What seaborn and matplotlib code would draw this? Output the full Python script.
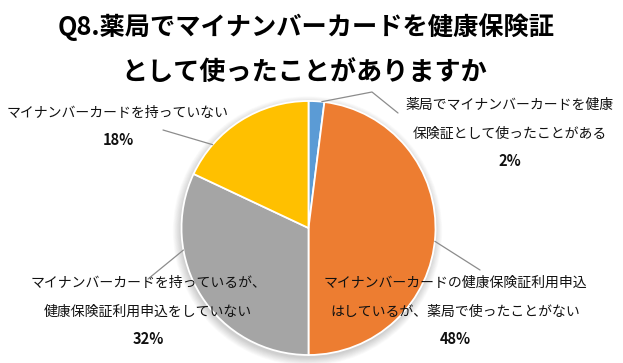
import numpy as np
import matplotlib.pyplot as plt
import matplotlib.patches as mpatches
import seaborn as sns

# data
labels = [
    ["薬局でマイナンバーカードを健康", "保険証として使ったことがある"],
    ["マイナンバーカードの健康保険証利用申込", "はしているが、薬局で使ったことがない"],
    ["マイナンバーカードを持っているが、", "健康保険証利用申込をしていない"],
    ["マイナンバーカードを持っていない"],
]
values = [2, 48, 32, 18]
colors = ["#5B9BD5", "#ED7D31", "#A5A5A5", "#FFC000"]
title_lines = ["Q8.薬局でマイナンバーカードを健康保険証", "として使ったことがありますか"]

# layout (pixel coords, y measured from top)
W, H = 623, 363
cx, cy, r = 308.5, 228, 127
label_pos = [(510, 105), (455, 283), (148, 283), (118, 113)]
line_gap = 29
# leader lines: angle on pie edge, then waypoints toward the label
leaders = [
    (84, [(372, 92), (398, 113)]),
    (-6, [(480, 270)]),
    (190, [(148, 279)]),
    (139, [(163, 130)]),
]

sns.set_theme(style="white")
plt.rcParams["font.family"] = ["Noto Sans CJK JP", "DejaVu Sans"]

fig = plt.figure(figsize=(W / 100, H / 100), dpi=100)
ax = fig.add_axes([0, 0, 1, 1])


def fy(y):
    return H - y


# soft shadow
for i in range(12):
    ax.add_patch(mpatches.Circle((cx - 1, fy(cy) - 3), r + i * 0.7,
                                 color="black", alpha=0.014, lw=0, zorder=0))

ax.pie(values, colors=colors, startangle=90, counterclock=False,
       center=(cx, fy(cy)), radius=r,
       wedgeprops={"edgecolor": "white", "linewidth": 1.3, "zorder": 2})

ax.set_xlim(0, W)
ax.set_ylim(0, H)
ax.set_aspect("equal")
ax.axis("off")

for k, (ang, pts) in enumerate(leaders):
    a = np.deg2rad(ang)
    xs = [cx + r * np.cos(a)] + [p[0] for p in pts]
    ys = [fy(cy) + r * np.sin(a)] + [fy(p[1]) for p in pts]
    ax.plot(xs, ys, color="#8C8C8C", lw=0.9, zorder=3)

for k, (x, y) in enumerate(label_pos):
    for j, line in enumerate(labels[k]):
        ax.text(x, fy(y + j * line_gap), line, ha="center", va="center",
                fontsize=10, color="#111111", zorder=4)
    ax.text(x, fy(y + len(labels[k]) * line_gap - 2), f"{values[k]}%",
            ha="center", va="center", fontsize=10.5, fontweight="bold",
            color="#111111", zorder=4)

ax.text(306, fy(27), title_lines[0], ha="center", va="center",
        fontsize=18.2, fontweight="bold", color="black")
ax.text(304, fy(73), title_lines[1], ha="center", va="center",
        fontsize=18.8, fontweight="bold", color="black")

fig.savefig("out.png", dpi=100)
